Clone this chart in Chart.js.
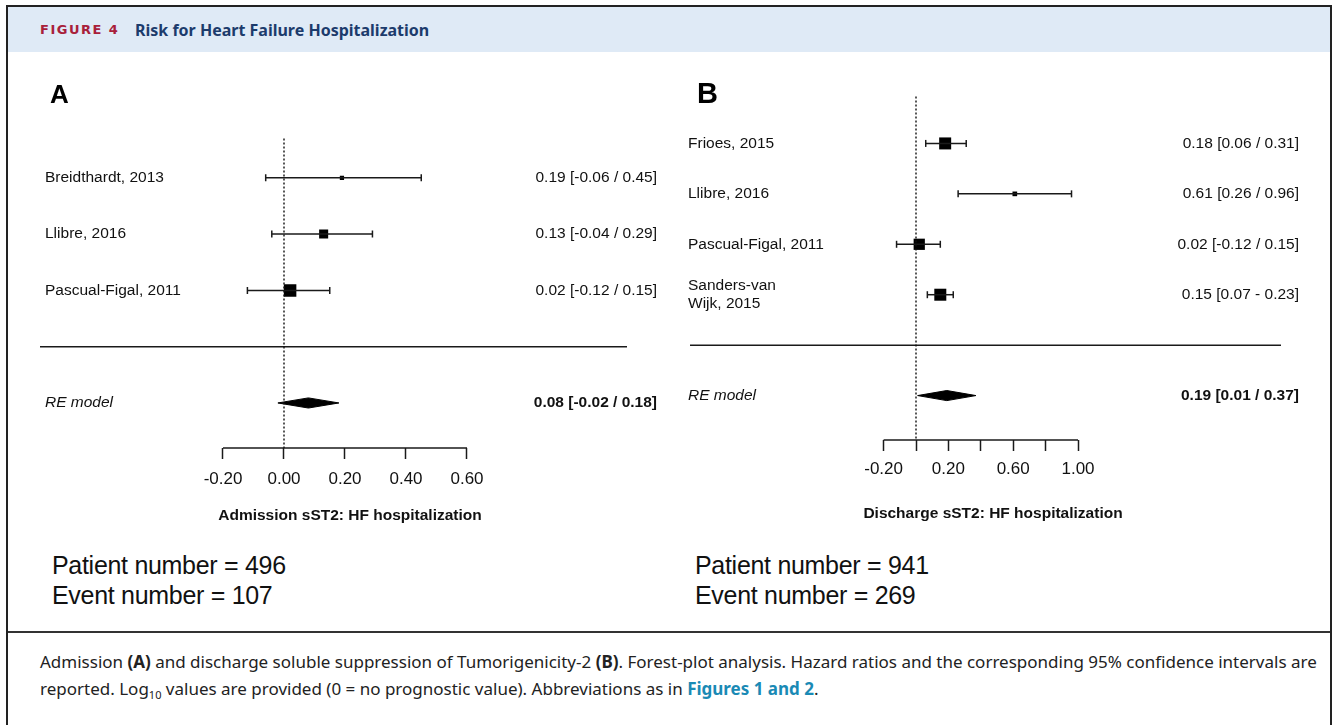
<!DOCTYPE html>
<html>
<head>
<meta charset="utf-8">
<script src="https://cdn.jsdelivr.net/npm/chart.js@4.4.1/dist/chart.umd.min.js"></script>
<style>
  body { margin: 0; background: #fff; width: 1336px; height: 725px; overflow: hidden; position: relative; font-family: 'Liberation Sans', Arial, sans-serif; }
  #frame { position: absolute; left: 6px; top: 5px; width: 1322px; height: 740px; border: 2px solid #222; }
  #header { position: absolute; left: 8px; top: 7px; width: 1322px; height: 45px; background: #dfeaf6; }
  #header .fig { position: absolute; left: 32px; top: 15px; font-family: 'DejaVu Sans', sans-serif; font-weight: bold; font-size: 13px; letter-spacing: 1.5px; color: #a8203a; }
  #header .ttl { position: absolute; left: 127px; top: 12px; font-family: 'Noto Sans', sans-serif; font-weight: bold; font-size: 16px; color: #1c3b6c; }
  canvas { position: absolute; top: 60px; }
  #chartA { left: 0; }
  #chartB { left: 668px; }
  .letter { position: absolute; font-weight: bold; color: #000; line-height: 1; }
  .counts { position: absolute; font-size: 25px; line-height: 30px; letter-spacing: -0.3px; color: #111; }
  #rule { position: absolute; left: 8px; top: 631px; width: 1322px; height: 2px; background: #333; }
  #caption { position: absolute; left: 40px; top: 648px; font-family: 'Noto Sans', sans-serif; font-size: 17px; line-height: 27px; color: #222; white-space: nowrap; }
  #caption .ref { color: #1a8ab5; font-weight: bold; }
</style>
</head>
<body>
<div id="frame"></div>
<div id="header"><span class="fig">FIGURE 4</span><span class="ttl">Risk for Heart Failure Hospitalization</span></div>

<canvas id="chartA" width="668" height="480"></canvas>
<canvas id="chartB" width="668" height="480"></canvas>

<div class="letter" style="left:50px; top:81px; font-size:26px;">A</div>
<div class="letter" style="left:697px; top:79px; font-size:29px;">B</div>

<div class="counts" style="left:52px; top:550px;">Patient number = 496<br>Event number = 107</div>
<div class="counts" style="left:695px; top:550px;">Patient number = 941<br>Event number = 269</div>

<div id="rule"></div>
<div id="caption">Admission <b>(A)</b> and discharge soluble suppression of Tumorigenicity-2 <b>(B)</b>. Forest-plot analysis. Hazard ratios and the corresponding 95% confidence intervals are<br>reported. Log<sub style="font-size:11px">10</sub> values are provided (0 = no prognostic value). Abbreviations as in <span class="ref">Figures 1 and 2</span>.</div>

<script>
// panel A: admission sST2
const studiesA = ['Breidthardt, 2013', 'Llibre, 2016', 'Pascual-Figal, 2011'];
const estA = [0.19, 0.13, 0.02];
const lowA = [-0.06, -0.04, -0.12];
const highA = [0.45, 0.29, 0.15];
const weightA = [7, 32, 61];
const pooledA = [0.08, -0.02, 0.18]; // estimate, low, high
const ticksA = [-0.2, 0, 0.2, 0.4, 0.6];
const tickLabelsA = ['-0.20', '0.00', '0.20', '0.40', '0.60'];

// panel B: discharge sST2
const studiesB = ['Frioes, 2015', 'Llibre, 2016', 'Pascual-Figal, 2011', ['Sanders-van', 'Wijk, 2015']];
const estB = [0.18, 0.61, 0.02, 0.15];
const lowB = [0.06, 0.26, -0.12, 0.07];
const highB = [0.31, 0.96, 0.15, 0.23];
const ciSepB = [' / ', ' / ', ' / ', ' - '];
const weightB = [33, 5, 29, 33];
const pooledB = [0.19, 0.01, 0.37];
const ticksB = [-0.2, 0, 0.2, 0.4, 0.6, 0.8, 1.0];
const tickLabelsB = ['-0.20', '', '0.20', '', '0.60', '', '1.00'];

const FONT = "'Liberation Sans', Arial, sans-serif";
Chart.defaults.font.family = FONT;

function ciText(e, l, h, sep) {
    return e.toFixed(2) + ' [' + l.toFixed(2) + (sep || ' / ') + h.toFixed(2) + ']';
}

function forestChart(canvasId, p) {
    const n = p.studies.length;
    const reRow = n + 2;
    const sepRow = n + 1;
    const datasets = [];

    // dotted no-effect line
    datasets.push({
        data: [{ x: 0, y: p.refFrom }, { x: 0, y: p.yMax }],
        borderColor: '#111', borderWidth: 1.4, borderDash: [2, 2], pointRadius: 0, clip: false
    });

    // confidence interval whiskers with end caps
    for (let i = 0; i < n; i++) {
        datasets.push({
            data: [{ x: p.low[i], y: i + 1 }, { x: p.high[i], y: i + 1 }],
            borderColor: '#1a1a1a', borderWidth: 1.5,
            pointStyle: 'line', pointRotation: 90, pointRadius: 3.5,
            pointBorderColor: '#1a1a1a', pointBorderWidth: 1.5
        });
    }

    // study squares sized by weight
    const maxW = Math.max(...p.weight);
    datasets.push({
        data: p.est.map((e, i) => ({ x: e, y: i + 1 })),
        showLine: false, pointStyle: 'rect',
        pointRadius: p.weight.map(w => p.maxSide * Math.sqrt(w / maxW) / Math.SQRT2),
        pointBackgroundColor: '#000', pointBorderWidth: 0
    });

    // pooled estimate diamond
    const [pe, pl, ph] = p.pooled;
    datasets.push({
        data: [{ x: pl, y: reRow }, { x: pe, y: reRow - p.dh }, { x: ph, y: reRow }, { x: pe, y: reRow + p.dh }, { x: pl, y: reRow }],
        fill: 'shape', backgroundColor: '#000', borderColor: '#000', borderWidth: 1, pointRadius: 0
    });

    // separator line
    datasets.push({
        data: [{ x: p.sepFrom, y: sepRow }, { x: p.sepTo, y: sepRow }],
        borderColor: '#1a1a1a', borderWidth: 1.5, pointRadius: 0, clip: false
    });

    // bracket axis line between first and last tick
    datasets.push({
        data: [{ x: p.ticks[0], y: p.yMax }, { x: p.ticks[p.ticks.length - 1], y: p.yMax }],
        borderColor: '#1a1a1a', borderWidth: 1.5, pointRadius: 0, clip: false
    });

    const rowTicks = p.studies.map((s, i) => i + 1).concat([reRow]);
    const leftLabel = v => v === reRow ? 'RE model' : p.studies[v - 1];
    const rightLabel = v => v === reRow
        ? ciText(p.pooled[0], p.pooled[1], p.pooled[2])
        : ciText(p.est[v - 1], p.low[v - 1], p.high[v - 1], p.ciSep ? p.ciSep[v - 1] : null);

    const yCommon = {
        type: 'linear', reverse: true, min: 0, max: p.yMax,
        border: { display: false }, grid: { display: false },
        afterBuildTicks: s => { s.ticks = rowTicks.map(v => ({ value: v })); }
    };

    return new Chart(document.getElementById(canvasId), {
        type: 'line',
        data: { datasets: datasets },
        options: {
            responsive: false,
            animation: false,
            events: [],
            layout: { padding: p.padding },
            plugins: { legend: { display: false }, tooltip: { enabled: false } },
            elements: { line: { tension: 0 } },
            scales: {
                x: {
                    type: 'linear', min: p.xMin, max: p.xMax,
                    afterBuildTicks: s => { s.ticks = p.ticks.map(v => ({ value: v })); },
                    afterFit: s => { s.height = p.xAxisHeight; },
                    border: { display: false },
                    grid: { drawOnChartArea: false, drawTicks: true, tickLength: 11, tickColor: '#1a1a1a', tickWidth: 1.5 },
                    ticks: {
                        autoSkip: false, maxRotation: 0, padding: p.tickPad, color: '#111',
                        font: { size: 17 },
                        callback: v => p.tickLabels[p.ticks.indexOf(v)]
                    },
                    title: {
                        display: true, text: p.xTitle, color: '#111',
                        font: { size: 15.5, weight: 'bold' }, padding: { top: 0, bottom: 0 }
                    }
                },
                y: Object.assign({}, yCommon, {
                    position: 'left',
                    afterFit: s => { s.width = p.leftW; },
                    ticks: {
                        autoSkip: false, crossAlign: 'far', padding: 0, color: '#111',
                        font: c => ({ size: 15.5, style: c.tick && c.tick.value === reRow ? 'italic' : 'normal' }),
                        callback: v => leftLabel(v)
                    }
                }),
                yr: Object.assign({}, yCommon, {
                    position: 'right',
                    afterFit: s => { s.width = p.rightW; },
                    ticks: {
                        autoSkip: false, crossAlign: 'far', padding: 0, color: '#111',
                        font: c => ({ size: 15.5, weight: c.tick && c.tick.value === reRow ? 'bold' : 'normal' }),
                        callback: v => rightLabel(v)
                    }
                })
            }
        }
    });
}

forestChart('chartA', {
    studies: studiesA, est: estA, low: lowA, high: highA, weight: weightA, pooled: pooledA,
    ticks: ticksA, tickLabels: tickLabelsA, xTitle: 'Admission sST2: HF hospitalization',
    xMin: -0.3, xMax: 0.7328, yMax: 5.8, refFrom: 0.3, dh: 0.09, maxSide: 12.5,
    sepFrom: -0.8, sepTo: 1.1246,
    padding: { left: 45, right: 11, top: 61.5, bottom: 14.7 },
    leftW: 147.5, rightW: 149.5, xAxisHeight: 77.3, tickPad: 10
});

forestChart('chartB', {
    studies: studiesB, est: estB, low: lowB, high: highB, weight: weightB, pooled: pooledB, ciSep: ciSepB,
    ticks: ticksB, tickLabels: tickLabelsB, xTitle: 'Discharge sST2: HF hospitalization',
    xMin: -0.3457, xMax: 1.2963, yMax: 6.881, refFrom: 0.07, dh: 0.1, maxSide: 12,
    sepFrom: -1.395, sepTo: 2.253,
    padding: { left: 20, right: 37, top: 33, bottom: 16.7 },
    leftW: 172, rightW: 173, xAxisHeight: 83.3, tickPad: 8
});
</script>
</body>
</html>
